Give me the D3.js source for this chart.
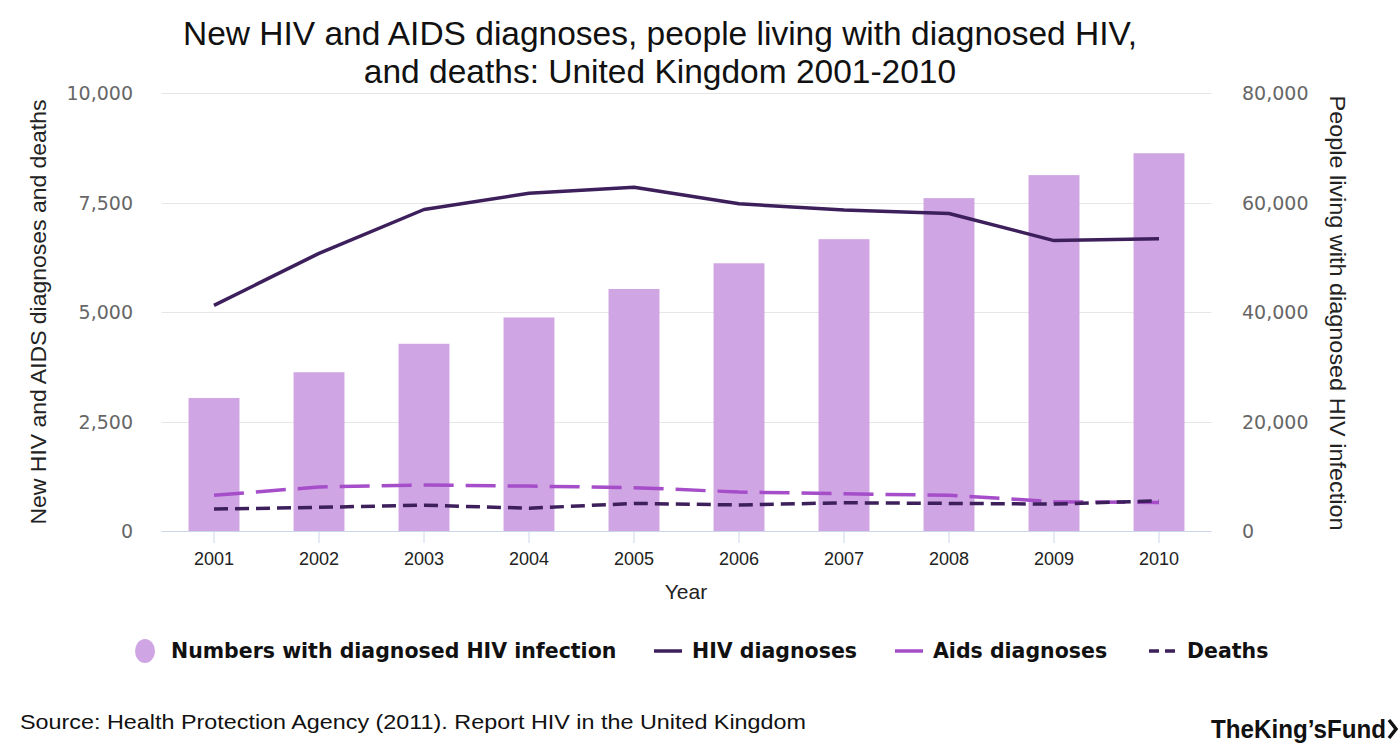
<!DOCTYPE html>
<meta charset="utf-8">
<script src="https://d3js.org/d3.v7.min.js"></script>
<style>
  body { margin: 0; background: #fff; }
</style>
<div id="chart"></div>
<script>
// Data
var years = ["2001", "2002", "2003", "2004", "2005", "2006", "2007", "2008", "2009", "2010"];
var livingWithHIV = [24300, 29000, 34200, 39000, 44200, 48900, 53300, 60800, 65000, 69000];
var hivDiagnoses = [5150, 6340, 7340, 7710, 7850, 7470, 7330, 7250, 6630, 6670];
var aidsDiagnoses = [815, 1005, 1050, 1025, 990, 890, 850, 815, 670, 650];
var deaths = [500, 540, 590, 520, 630, 595, 645, 630, 615, 690];
var leftTicks = [0, 2500, 5000, 7500, 10000];
var rightTicks = [0, 20000, 40000, 60000, 80000];

var W = 1400, H = 747;
var svg = d3.select("#chart").append("svg")
    .attr("width", W)
    .attr("height", H)
    .style("font-family", "'Liberation Sans', Arial, sans-serif");

var x = d3.scaleBand().domain(years).range([161.5, 1211.5]);
var yL = d3.scaleLinear().domain([0, 10000]).range([531, 93]);
var yR = d3.scaleLinear().domain([0, 80000]).range([531, 93]);
var fmt = d3.format(",");

// Gridlines
svg.append("g")
  .selectAll("line")
  .data(leftTicks.slice(1))
  .join("line")
    .attr("x1", 161.5).attr("x2", 1211.5)
    .attr("y1", d => Math.round(yL(d)) + 0.5)
    .attr("y2", d => Math.round(yL(d)) + 0.5)
    .attr("stroke", "#e6e6e6");

// Bars (right axis)
var barW = x.bandwidth() * 0.485;
svg.append("g")
  .selectAll("rect")
  .data(livingWithHIV)
  .join("rect")
    .attr("x", (d, i) => x(years[i]) + x.bandwidth() / 2 - barW / 2)
    .attr("y", d => yR(d))
    .attr("width", barW)
    .attr("height", d => yR(0) - yR(d))
    .attr("fill", "#cfa5e3");

// X axis line and ticks
svg.append("line")
    .attr("x1", 161.5).attr("x2", 1211.5)
    .attr("y1", 531.5).attr("y2", 531.5)
    .attr("stroke", "#ccd6eb");
svg.append("g")
  .selectAll("line")
  .data(years)
  .join("line")
    .attr("x1", d => x(d) + x.bandwidth() / 2)
    .attr("x2", d => x(d) + x.bandwidth() / 2)
    .attr("y1", 531).attr("y2", 543)
    .attr("stroke", "#ccd6eb");
svg.append("g")
  .selectAll("text")
  .data(years)
  .join("text")
    .attr("x", d => x(d) + x.bandwidth() / 2)
    .attr("y", 565)
    .attr("text-anchor", "middle")
    .attr("font-size", 18)
    .attr("fill", "#222")
    .text(d => d);
svg.append("text")
    .attr("x", 686).attr("y", 599)
    .attr("text-anchor", "middle")
    .attr("font-size", 21)
    .attr("fill", "#222")
    .text("Year");

// Y axis tick labels
svg.append("g")
  .selectAll("text")
  .data(leftTicks)
  .join("text")
    .attr("x", 133)
    .attr("y", d => yL(d) + 7)
    .attr("text-anchor", "end")
    .attr("font-family", "'DejaVu Sans', sans-serif")
    .attr("font-size", 19)
    .attr("fill", "#666")
    .text(d => fmt(d));
svg.append("g")
  .selectAll("text")
  .data(rightTicks)
  .join("text")
    .attr("x", 1242)
    .attr("y", d => yR(d) + 7)
    .attr("font-family", "'DejaVu Sans', sans-serif")
    .attr("font-size", 19)
    .attr("fill", "#666")
    .text(d => fmt(d));

// Axis titles
svg.append("text")
    .attr("transform", "translate(46,312) rotate(-90)")
    .attr("text-anchor", "middle")
    .attr("font-size", 22)
    .attr("fill", "#222")
    .attr("textLength", 425)
    .attr("lengthAdjust", "spacingAndGlyphs")
    .text("New HIV and AIDS diagnoses and deaths");
svg.append("text")
    .attr("transform", "translate(1330,313) rotate(90)")
    .attr("text-anchor", "middle")
    .attr("font-size", 22)
    .attr("fill", "#222")
    .attr("textLength", 435)
    .attr("lengthAdjust", "spacingAndGlyphs")
    .text("People living with diagnosed HIV infection");

// Lines (left axis)
var line = d3.line()
    .x((d, i) => x(years[i]) + x.bandwidth() / 2)
    .y(d => yL(d));

var lineSeries = [
  {name: "HIV diagnoses", values: hivDiagnoses, color: "#3d1f5c", dash: null},
  {name: "Aids diagnoses", values: aidsDiagnoses, color: "#a64dc9", dash: "30,12"},
  {name: "Deaths", values: deaths, color: "#3d1f5c", dash: "14,7"}
];

svg.append("g")
  .selectAll("path")
  .data(lineSeries)
  .join("path")
    .attr("d", d => line(d.values))
    .attr("fill", "none")
    .attr("stroke", d => d.color)
    .attr("stroke-width", 3.5)
    .attr("stroke-dasharray", d => d.dash)
    .attr("stroke-linejoin", "round");

// Title
var title = svg.append("text")
    .attr("text-anchor", "middle")
    .attr("font-size", 33.5)
    .attr("fill", "#111");
title.append("tspan").attr("x", 660).attr("y", 45)
    .text("New HIV and AIDS diagnoses, people living with diagnosed HIV,");
title.append("tspan").attr("x", 660).attr("y", 83)
    .text("and deaths: United Kingdom 2001-2010");

// Legend
var legendItems = [
  {name: "Numbers with diagnosed HIV infection", type: "bar", color: "#cfa5e3", x: 145},
  {name: "HIV diagnoses", type: "line", color: "#3d1f5c", dash: null, x: 654},
  {name: "Aids diagnoses", type: "line", color: "#a64dc9", dash: null, x: 895},
  {name: "Deaths", type: "line", color: "#3d1f5c", dash: "10,6", x: 1149}
];
var legend = svg.append("g")
  .selectAll("g")
  .data(legendItems)
  .join("g")
    .attr("transform", d => `translate(${d.x},651)`);
legend.filter(d => d.type === "bar").append("ellipse")
    .attr("cx", 0).attr("cy", 0)
    .attr("rx", 10).attr("ry", 12)
    .attr("fill", d => d.color);
legend.filter(d => d.type === "line").append("line")
    .attr("x1", 0).attr("x2", 28)
    .attr("y1", 0).attr("y2", 0)
    .attr("stroke", d => d.color)
    .attr("stroke-width", 3.5)
    .attr("stroke-dasharray", d => d.dash);
legend.append("text")
    .attr("x", d => d.type === "bar" ? 26 : 38)
    .attr("y", 7)
    .attr("font-family", "'DejaVu Sans', sans-serif")
    .attr("font-weight", "bold")
    .attr("font-size", 20.5)
    .attr("fill", "#111")
    .text(d => d.name);

// Source
svg.append("text")
    .attr("x", 20).attr("y", 729)
    .attr("font-size", 21)
    .attr("fill", "#111")
    .attr("textLength", 786)
    .attr("lengthAdjust", "spacingAndGlyphs")
    .text("Source: Health Protection Agency (2011). Report HIV in the United Kingdom");

// Logo
svg.append("text")
    .attr("x", 1211).attr("y", 738)
    .attr("font-size", 25)
    .attr("font-weight", "bold")
    .attr("fill", "#111")
    .attr("textLength", 175)
    .attr("lengthAdjust", "spacingAndGlyphs")
    .text("TheKing\u2019sFund");
svg.append("path")
    .attr("d", "M1389,720 L1396,729 L1389,738")
    .attr("fill", "none")
    .attr("stroke", "#111")
    .attr("stroke-width", 3.5);
</script>
